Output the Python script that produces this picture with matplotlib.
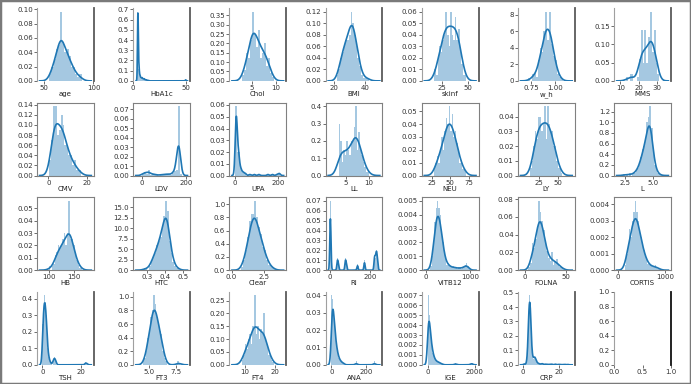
import numpy as np
import matplotlib
matplotlib.use('Agg')
import matplotlib.pyplot as plt
from matplotlib.ticker import MultipleLocator
from matplotlib.patches import Rectangle

# histogram densities: (first edge, last edge) and bar heights
age_bins = (55, 88)
age_dens = [0.01, 0.02, 0.03, 0.045, 0.05, 0.097, 0.055, 0.04, 0.045, 0.035,
            0.02, 0.02, 0.01, 0.005, 0.01]
hba1c_bins = (4, 50)
hba1c_dens = [0.68, 0.12, 0.05, 0.03, 0.03, 0.02, 0.02, 0.01, 0.01, 0.005,
              0.005] + [0] * 34 + [0.01]
chol_bins = (3.0, 9.5)
chol_dens = [0.03, 0.06, 0.15, 0.12, 0.22, 0.37, 0.25, 0.18, 0.27, 0.12,
             0.15, 0.2, 0.08, 0.12, 0.04, 0.02]
bmi_bins = (22, 44)
bmi_dens = [0.01, 0.02, 0.04, 0.05, 0.06, 0.07, 0.07, 0.08, 0.12, 0.1,
            0.08, 0.06, 0.04, 0.025, 0.01, 0.005, 0.005, 0.005, 0.005, 0.0]
skinf_bins = (18, 48)
skinf_dens = [0.01, 0.005, 0.02, 0.03, 0.025, 0.035, 0.04, 0.06, 0.04, 0.03,
              0.06, 0.04, 0.035, 0.055, 0.035, 0.045, 0.025, 0.015, 0.005,
              0.005]
wh_bins = (0.72, 1.10)
wh_dens = [0.3, 0, 0.8, 1.0, 0.5, 2.5, 4.0, 3.5, 6.0, 8.4, 5.0, 8.3, 4.5,
           3.0, 2.5, 0.8, 0.5, 0.3, 0]
mms_bins = (13, 31)
mms_dens = [0.01, 0.0, 0.02, 0.02, 0.0, 0.0, 0.01, 0.06, 0.14, 0.05, 0.14,
            0.05, 0.12, 0.19, 0.08, 0.14, 0.05, 0.02]
cmv_bins = (0.5, 17)
cmv_dens = [0.03, 0.07, 0.137, 0.137, 0.08, 0.09, 0.12, 0.1, 0.06, 0.06,
            0.04, 0.04, 0.02, 0.03, 0.01, 0.01, 0.01]
ldv_bins = (0, 180)
ldv_dens = [0.002, 0.004, 0.002, 0.006, 0.001, 0.002, 0.001, 0.001, 0.0,
            0.001, 0.001, 0.001, 0.002, 0.001, 0.001, 0.003, 0.005, 0.006,
            0.073, 0.002]
upa_bins = (0, 210)
upa_dens = [0.059, 0.02, 0.006, 0.003, 0.002, 0.0, 0.001, 0.0, 0.001, 0.0,
            0.001, 0.0, 0.0, 0.0, 0.001, 0.0, 0.001, 0.0, 0.001, 0.002]
ll_bins = (3.5, 10)
ll_dens = [0.3, 0.2, 0.08, 0.15, 0.12, 0.2, 0.15, 0.12, 0.2, 0.2, 0.28, 0.4,
           0.15, 0.25, 0.15, 0.12, 0.08, 0.05, 0.02, 0.03]
neu_bins = (28, 72)
neu_dens = [0.005, 0.01, 0.015, 0.01, 0.02, 0.03, 0.02, 0.035, 0.045, 0.04,
            0.054, 0.035, 0.048, 0.03, 0.035, 0.025, 0.02, 0.01, 0.012,
            0.005, 0.005, 0.003]
ly_bins = (14, 56)
ly_dens = [0.005, 0.01, 0.02, 0.03, 0.025, 0.04, 0.04, 0.03, 0.035, 0.047,
           0.025, 0.047, 0.035, 0.03, 0.03, 0.02, 0.02, 0.01, 0.005, 0.005,
           0.002]
l_bins = (2.3, 5.8)
l_dens = [0.03, 0, 0.03, 0, 0.05, 0, 0.05, 0.05, 0.1, 0.15, 0.2, 0.35, 0.5,
          0.55, 0.7, 1.0, 1.1, 1.3, 0.9, 0.4, 0.2, 0.1, 0.05, 0.02, 0.01]
hb_bins = (100, 166)
hb_dens = [0.003, 0, 0.003, 0.005, 0.012, 0.015, 0.02, 0.018, 0.02, 0.025,
           0.03, 0.02, 0.03, 0.056, 0.025, 0.025, 0.02, 0.012, 0.008, 0.004,
           0.002, 0.002]
htc_bins = (0.28, 0.48)
htc_dens = [0.5, 0.5, 0.0, 1.0, 2.5, 3.5, 4.0, 6.0, 7.0, 8.0, 10.0, 13.0,
            16.5, 14.0, 7.0, 4.0, 2.0, 1.0, 0.5, 0.5]
clear_bins = (0.7, 3.3)
clear_dens = [0.05, 0.15, 0.3, 0.5, 0.75, 0.85, 1.05, 0.8, 0.65, 0.55, 0.35,
              0.3, 0.15, 0.08, 0.05, 0.03]
ri_bins = (0, 240)
ri_dens = [0.07, 0, 0, 0, 0, 0, 0, 0.012, 0.006, 0, 0, 0, 0, 0, 0, 0.012,
           0.006, 0, 0, 0, 0, 0, 0, 0, 0, 0, 0, 0.006, 0, 0, 0, 0, 0, 0,
           0.01, 0, 0, 0, 0, 0, 0, 0, 0, 0, 0.015, 0.012, 0.02, 0.01]
vitb12_bins = (100, 1000)
vitb12_dens = [0.0003, 0.001, 0.002, 0.0035, 0.0045, 0.005, 0.0045, 0.004,
               0.003, 0.002, 0.0012, 0.0008, 0.0004, 0.0005, 0.0004, 0.0002,
               0.0002, 0.0003, 0.0002, 0.0002, 0.0001, 0.0002, 0.0002,
               0.0001, 0.0002, 0.0002, 0.0004, 0.0005, 0.0003, 0.0001]
folna_bins = (4, 48)
folna_dens = [0.003, 0.008, 0.03, 0.025, 0.035, 0.05, 0.078, 0.065, 0.055,
              0.045, 0.03, 0.022, 0.014, 0.01, 0.02, 0.006, 0.01, 0.012,
              0.006, 0.004, 0.003, 0.002]
cortis_bins = (150, 900)
cortis_dens = [0.0003, 0.001, 0.0015, 0.0025, 0.002, 0.003, 0.0035, 0.0042,
               0.0035, 0.003, 0.0025, 0.002, 0.0015, 0.0012, 0.0008, 0.0006,
               0.0004, 0.0003, 0.0003, 0.0002, 0.0002, 0.0003, 0.0002,
               0.0001, 0.0001]
tsh_bins = (0, 24)
tsh_dens = [0.25, 0.42, 0.38, 0.3, 0.1, 0.05, 0.02, 0.01, 0.0, 0.03, 0.05,
            0.03] + [0] * 25 + [0.015, 0.01, 0.0]
ft3_bins = (4.4, 7.9)
ft3_dens = [0.05, 0.1, 0.2, 0.4, 0.5, 0.7, 0.8, 1.02, 0.9, 0.7, 0.6, 0.5,
            0.45, 0.2, 0.1, 0.05, 0, 0, 0, 0, 0, 0, 0, 0.05, 0.03]
ft4_bins = (9, 19.5)
ft4_dens = [0.02, 0.04, 0.08, 0.06, 0.1, 0.12, 0.08, 0.15, 0.27, 0.12, 0.15,
            0.1, 0.14, 0.12, 0.2, 0.1, 0.08, 0.04, 0.04, 0.02, 0.01]
ana_bins = (0, 260)
ana_dens = [0.04, 0.038, 0.03, 0.022, 0.016, 0.012, 0.008, 0.006, 0.004,
            0.003, 0.002, 0.002, 0.001, 0.001, 0.001] + [0] * 13 + \
           [0.002] + [0] * 20 + [0.002, 0, 0]
ige_bins = (0, 1900)
ige_dens = [0.007, 0.005, 0.003, 0.002, 0.0012, 0.0008, 0.0005, 0.0004,
            0.0003, 0.0003, 0.0002, 0.0001, 0.0001] + [0] * 10 + \
           [0.0002] + [0] * 12 + [0.0001, 0.0002]
crp_bins = (0, 26)
crp_dens = [0, 0.01, 0, 0.005, 0.02, 0.1, 0.35, 0.48, 0.4, 0.15, 0.06, 0.04,
            0.05, 0.06, 0.03, 0.02,
            0.01, 0.01, 0.005, 0.005, 0.005, 0.01, 0.005, 0.0, 0.005, 0.005,
            0.0, 0.005, 0.0, 0.005, 0.0, 0.005, 0.005, 0.0, 0.0, 0.005,
            0.005, 0.0, 0.0, 0.005, 0.0, 0.005, 0.0, 0.0, 0.005, 0.0, 0.005,
            0.0, 0.0, 0.005, 0.0, 0.0]

columns = ['age', 'HbA1c', 'Chol', 'BMI', 'skinf', 'w_h', 'MMS',
           'CMV', 'LDV', 'UPA', 'LL', 'NEU', 'LY', 'L',
           'HB', 'HTC', 'Clear', 'RI', 'VITB12', 'FOLNA', 'CORTIS',
           'TSH', 'FT3', 'FT4', 'ANA', 'IGE', 'CRP']

x_ticks = {'age': [50, 100], 'HbA1c': [0, 50], 'Chol': [5, 10],
           'BMI': [20, 40], 'skinf': [25, 50], 'w_h': [0.75, 1.00],
           'MMS': [10, 20, 30], 'CMV': [0, 20], 'LDV': [0, 200],
           'UPA': [0, 200], 'LL': [5, 10], 'NEU': [25, 50, 75],
           'LY': [25, 50], 'L': [2.5, 5.0], 'HB': [100, 150],
           'HTC': [0.3, 0.4, 0.5], 'Clear': [0.0, 2.5], 'RI': [0, 200],
           'VITB12': [0, 1000], 'FOLNA': [0, 50], 'CORTIS': [0, 1000],
           'TSH': [0, 20], 'FT3': [5.0, 7.5], 'FT4': [10, 20],
           'ANA': [0, 200], 'IGE': [0, 2000], 'CRP': [0, 20]}
y_step = {'age': 0.02, 'HbA1c': 0.1, 'Chol': 0.05, 'BMI': 0.02,
          'skinf': 0.01, 'w_h': 2, 'MMS': 0.05, 'CMV': 0.02, 'LDV': 0.01,
          'UPA': 0.01, 'LL': 0.1, 'NEU': 0.01, 'LY': 0.01, 'L': 0.2,
          'HB': 0.01, 'HTC': 2.5, 'Clear': 0.2, 'RI': 0.01, 'VITB12': 0.001,
          'FOLNA': 0.02, 'CORTIS': 0.001, 'TSH': 0.1, 'FT3': 0.2,
          'FT4': 0.05, 'ANA': 0.01, 'IGE': 0.001, 'CRP': 0.1}

hist_data = {
    'age': (age_bins, age_dens), 'HbA1c': (hba1c_bins, hba1c_dens),
    'Chol': (chol_bins, chol_dens), 'BMI': (bmi_bins, bmi_dens),
    'skinf': (skinf_bins, skinf_dens), 'w_h': (wh_bins, wh_dens),
    'MMS': (mms_bins, mms_dens), 'CMV': (cmv_bins, cmv_dens),
    'LDV': (ldv_bins, ldv_dens), 'UPA': (upa_bins, upa_dens),
    'LL': (ll_bins, ll_dens), 'NEU': (neu_bins, neu_dens),
    'LY': (ly_bins, ly_dens), 'L': (l_bins, l_dens),
    'HB': (hb_bins, hb_dens), 'HTC': (htc_bins, htc_dens),
    'Clear': (clear_bins, clear_dens), 'RI': (ri_bins, ri_dens),
    'VITB12': (vitb12_bins, vitb12_dens), 'FOLNA': (folna_bins, folna_dens),
    'CORTIS': (cortis_bins, cortis_dens), 'TSH': (tsh_bins, tsh_dens),
    'FT3': (ft3_bins, ft3_dens), 'FT4': (ft4_bins, ft4_dens),
    'ANA': (ana_bins, ana_dens), 'IGE': (ige_bins, ige_dens),
    'CRP': (crp_bins, crp_dens)}

N_OBS = 50
BW_OVERRIDE = {'RI': 3.0}
BLUE = '#1f77b4'


def kde_curve(edges, dens, bw=None):
    """ gaussian kde of the binned sample, scott rule like statsmodels """
    centers = 0.5 * (edges[:-1] + edges[1:])
    w = dens * np.diff(edges)
    w = w / w.sum()
    mean = np.sum(w * centers)
    std = np.sqrt(np.sum(w * (centers - mean)**2))
    cdf = np.concatenate([[0], np.cumsum(w)])
    q1 = np.interp(0.25, cdf, edges)
    q3 = np.interp(0.75, cdf, edges)
    a = min(std, (q3 - q1) / 1.349)
    if a <= 0:
        a = std
    if bw is None:
        bw = 1.059 * a * N_OBS**(-0.2)
    grid = np.linspace(edges[0] - 3 * bw, edges[-1] + 3 * bw, 300)
    z = (grid[:, None] - centers[None, :]) / bw
    y = np.sum(w * np.exp(-0.5 * z**2), axis=1) / (bw * np.sqrt(2 * np.pi))
    return grid, y


def style_axis(ax, row):
    for side in ax.spines:
        ax.spines[side].set_color('#808080')
        ax.spines[side].set_linewidth(0.8)
    if row in (0, 3):
        ax.spines['top'].set_visible(False)
        ax.spines['bottom'].set_visible(False)
        ax.spines['left'].set_color('#a0a0a0')
        ax.spines['right'].set_color('#5a5a5a')
        ax.spines['right'].set_linewidth(1.3)
    ax.tick_params(labelsize=5, length=2, width=0.5, pad=1,
                   colors='#333333')


fig, axes = plt.subplots(4, 7, figsize=(6.91, 3.84), dpi=100)
fig.subplots_adjust(left=0.0535, right=0.971, bottom=0.05, top=0.979,
                    wspace=0.69, hspace=0.30)

for i, name in enumerate(columns):
    ax = axes.flat[i]
    (lo, hi), dens = hist_data[name]
    dens = np.asarray(dens, dtype=float)
    edges = np.linspace(lo, hi, len(dens) + 1)
    ax.bar(edges[:-1], dens, width=np.diff(edges), align='edge',
           color=BLUE, alpha=0.4, linewidth=0)
    gx, gy = kde_curve(edges, dens, BW_OVERRIDE.get(name))
    ax.plot(gx, gy, color=BLUE, lw=1.2)
    ax.set_xticks(x_ticks[name])
    ax.yaxis.set_major_locator(MultipleLocator(y_step[name]))
    ax.set_xlabel(name, fontsize=5, labelpad=0, color='#222222')
    style_axis(ax, i // 7)

# last panel is empty
ax = axes.flat[27]
ax.set_xticks([0.0, 0.5, 1.0])
ax.yaxis.set_major_locator(MultipleLocator(0.2))
style_axis(ax, 3)
ax.spines['right'].set_color('#111111')

fig.patches.append(Rectangle((0, 0), 1, 1, transform=fig.transFigure,
                             fill=False, edgecolor='#7a7a7a', linewidth=2.5))

plt.savefig('out.png', dpi=100)
